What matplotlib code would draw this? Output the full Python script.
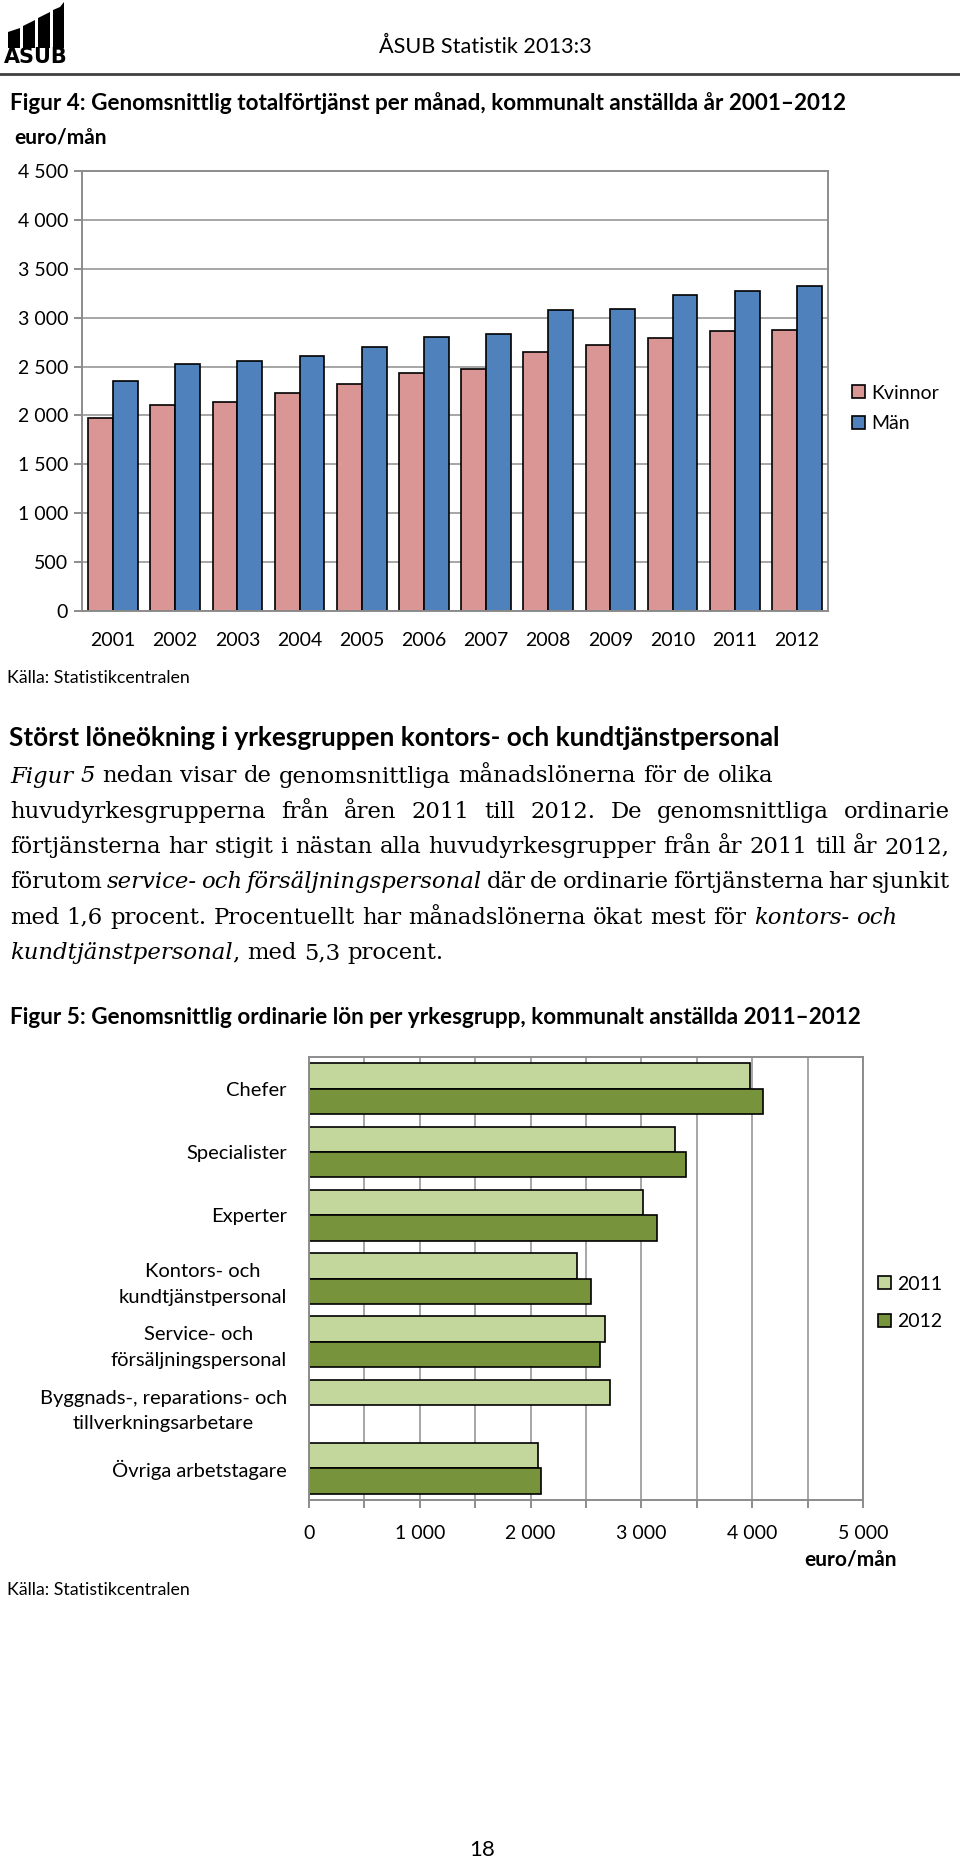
import matplotlib
matplotlib.use('Agg')
import matplotlib.pyplot as plt
from matplotlib.patches import Polygon
import numpy as np

# data, figur 4
years = [2001, 2002, 2003, 2004, 2005, 2006, 2007, 2008, 2009, 2010, 2011, 2012]
kvinnor = [1970, 2105, 2134, 2227, 2317, 2439, 2475, 2644, 2719, 2795, 2859, 2870]
man = [2353, 2522, 2554, 2611, 2698, 2805, 2830, 3078, 3093, 3236, 3272, 3322]
y_ticks = [0, 500, 1000, 1500, 2000, 2500, 3000, 3500, 4000, 4500]

# data, figur 5
groups = ['Chefer', 'Specialister', 'Experter', 'Kontors- och\nkundtjänstpersonal',
          'Service- och\nförsäljningspersonal', 'Byggnads-, reparations- och\ntillverkningsarbetare',
          'Övriga arbetstagare']
lon_2011 = [3980, 3302, 3010, 2420, 2674, 2718, 2067]
lon_2012 = [4096, 3401, 3137, 2547, 2624, np.nan, 2095]
x_ticks = [0, 500, 1000, 1500, 2000, 2500, 3000, 3500, 4000, 4500, 5000]

body = [
    ("*Figur 5* nedan visar de genomsnittliga månadslönerna för de olika", False),
    ("huvudyrkesgrupperna från åren 2011 till 2012. De genomsnittliga ordinarie", True),
    ("förtjänsterna har stigit i nästan alla huvudyrkesgrupper från år 2011 till år 2012,", True),
    ("förutom *service- och försäljningspersonal* där de ordinarie förtjänsterna har sjunkit", True),
    ("med 1,6 procent. Procentuellt har månadslönerna ökat mest för *kontors- och*", False),
    ("*kundtjänstpersonal*, med 5,3 procent.", False),
]

W, H = 960, 1864
SANS = 'Lato'
SERIF = 'DejaVu Serif'
BODY_SIZE = 16.4
GRID = '#A6A6A6'
SPINE = '#8C8C8C'

plt.rcParams['font.family'] = SANS

fig = plt.figure(figsize=(W / 100, H / 100), dpi=100)


def fx(x):
    return x / W


def fy(y):
    return 1 - y / H


def fmt(v):
    return '{:,}'.format(v).replace(',', ' ')


# header
logo = [[(8, 48), (8, 32), (20, 28), (20, 48)],
        [(23, 48), (23, 26), (35, 20), (35, 48)],
        [(38, 48), (38, 18), (50, 12), (50, 48)],
        [(53, 48), (53, 10), (60, 7), (64, 2), (64, 48)]]
for pts in logo:
    fig.patches.append(Polygon([(fx(a), fy(b)) for a, b in pts], closed=True,
                               facecolor='black', edgecolor='none', transform=fig.transFigure))
fig.text(fx(36), fy(57), 'ÅSUB', fontsize=15, fontweight='bold', ha='center', va='center',
         family='Liberation Sans Narrow')
fig.text(fx(485), fy(47), 'ÅSUB Statistik 2013:3', fontsize=15.6, ha='center', va='center')
fig.add_artist(plt.Line2D([0, 1], [fy(74), fy(74)], color='#404040', lw=2))

fig.text(fx(10), fy(103), 'Figur 4: Genomsnittlig totalförtjänst per månad, kommunalt anställda år 2001–2012',
         fontsize=16.2, fontweight='bold', va='center')
fig.text(fx(14), fy(137), 'euro/mån', fontsize=15, fontweight='bold', va='center')

# figur 4
ax1 = fig.add_axes([fx(82), fy(611), fx(828 - 82), (611 - 171) / H])
x = np.arange(len(years))
ax1.bar(x - 0.2, kvinnor, 0.4, color='#D99694', edgecolor='black', lw=1.2, label='Kvinnor')
ax1.bar(x + 0.2, man, 0.4, color='#4F81BD', edgecolor='black', lw=1.2, label='Män')
ax1.set_xlim(-0.5, len(years) - 0.5)
ax1.set_ylim(0, 4500)
ax1.set_yticks(y_ticks)
ax1.set_yticklabels([fmt(v) for v in y_ticks])
ax1.set_xticks(x)
ax1.set_xticklabels([str(v) for v in years])
ax1.yaxis.grid(True, color=GRID, lw=1.4)
ax1.set_axisbelow(True)
for s in ax1.spines.values():
    s.set_color(SPINE)
    s.set_linewidth(1.4)
ax1.tick_params(axis='y', length=6, color=SPINE, width=1.4, labelsize=14, pad=4)
ax1.tick_params(axis='x', length=0, labelsize=14, pad=15)
ax1.legend(loc='center left', bbox_to_anchor=(fx(852), fy(408.5)), bbox_transform=fig.transFigure,
           frameon=False, fontsize=14, handlelength=0.65, handleheight=0.65, handletextpad=0.35,
           labelspacing=0.7, borderpad=0, borderaxespad=0)

fig.text(fx(7), fy(678), 'Källa: Statistikcentralen', fontsize=12.8, va='center')

# text
fig.text(fx(9), fy(738), 'Störst löneökning i yrkesgruppen kontors- och kundtjänstpersonal',
         fontsize=18.8, fontweight='bold', va='center')

renderer = fig.canvas.get_renderer()


def width(t, italic=False):
    a = fig.text(0, 0, t, family=SERIF, fontsize=BODY_SIZE, style='italic' if italic else 'normal')
    w = a.get_window_extent(renderer).width
    a.remove()
    return w


space = width('n n') - width('nn')


def draw_line(y, s, justify, left=10, right=950):
    tokens = []
    prev_space = False
    for k, part in enumerate(s.split('*')):
        italic = k % 2 == 1
        for j, w in enumerate(part.split(' ')):
            if w == '':
                continue
            tokens.append((w, italic, j > 0 or prev_space))
        prev_space = part.endswith(' ')
    widths = [width(w, it) for w, it, _ in tokens]
    gaps = sum(1 for _, _, sp in tokens[1:] if sp)
    gap = space
    if justify:
        gap = max((right - left - sum(widths)) / gaps, 0.6 * space)
    xpos = left
    for i, (w, it, sp) in enumerate(tokens):
        if i > 0 and sp:
            xpos += gap
        fig.text(fx(xpos), fy(y), w, family=SERIF, fontsize=BODY_SIZE, va='center_baseline',
                 style='italic' if it else 'normal')
        xpos += widths[i]


for i, (line, just) in enumerate(body):
    draw_line(774 + 35.3 * i, line, just)

fig.text(fx(10), fy(1017), 'Figur 5: Genomsnittlig ordinarie lön per yrkesgrupp, kommunalt anställda 2011–2012',
         fontsize=16.2, fontweight='bold', va='center')

# figur 5
ax2 = fig.add_axes([fx(309), fy(1500), fx(863 - 309), (1500 - 1057) / H])
yy = np.arange(len(groups))
ax2.barh(yy - 0.2, lon_2011, 0.4, color='#C3D69B', edgecolor='black', lw=1.2, label='2011')
ax2.barh(yy + 0.2, lon_2012, 0.4, color='#77933C', edgecolor='black', lw=1.2, label='2012')
ax2.set_ylim(len(groups) - 0.5, -0.5)
ax2.set_xlim(0, 5000)
ax2.set_xticks(x_ticks)
ax2.set_xticklabels([fmt(v) if v % 1000 == 0 else '' for v in x_ticks])
ax2.set_yticks(yy)
ax2.set_yticklabels(groups)
for t in ax2.get_yticklabels():
    t.set_multialignment('center')
    t.set_linespacing(1.62)
ax2.xaxis.grid(True, color=GRID, lw=1.4)
ax2.set_axisbelow(True)
for s in ax2.spines.values():
    s.set_color(SPINE)
    s.set_linewidth(1.4)
ax2.tick_params(axis='y', length=0, labelsize=14.5, pad=16)
ax2.tick_params(axis='x', length=6, color=SPINE, width=1.4, labelsize=14, pad=12)
ax2.legend(loc='center left', bbox_to_anchor=(fx(878), fy(1303)), bbox_transform=fig.transFigure,
           frameon=False, fontsize=14, handlelength=0.65, handleheight=0.65, handletextpad=0.35,
           labelspacing=1.05, borderpad=0, borderaxespad=0)

fig.text(fx(897), fy(1559), 'euro/mån', fontsize=15, fontweight='bold', ha='right', va='center')
fig.text(fx(7), fy(1590), 'Källa: Statistikcentralen', fontsize=12.8, va='center')

fig.text(fx(482), fy(1850), '18', fontsize=16, ha='center', va='center')

fig.savefig('out.png', dpi=100)
